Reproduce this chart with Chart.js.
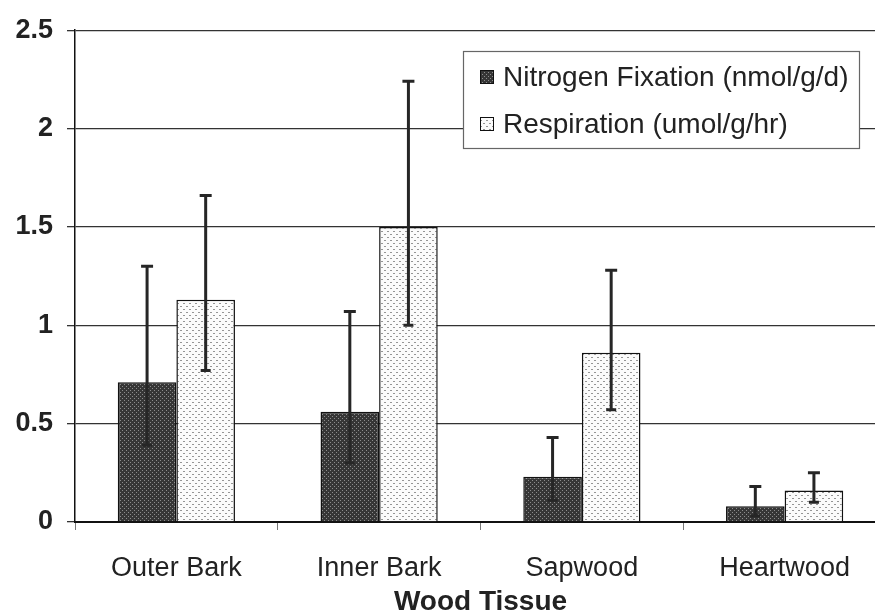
<!DOCTYPE html>
<html>
<head>
<meta charset="utf-8">
<script src="https://cdn.jsdelivr.net/npm/chart.js@4"></script>
<style>
  html, body { margin: 0; padding: 0; background: #fff; overflow: hidden; }
  #wrap { width: 888px; height: 616px; }
</style>
</head>
<body>
<div id="wrap"><canvas id="chart" width="888" height="616"></canvas></div>
<script>
(() => {
  const categories = ["Outer Bark", "Inner Bark", "Sapwood", "Heartwood"];
  const seriesNames = ["Nitrogen Fixation (nmol/g/d)", "Respiration (umol/g/hr)"];

  const nitrogen = [0.71, 0.56, 0.23, 0.08];
  const nitrogenLow = [0.39, 0.30, 0.11, 0.03];
  const nitrogenHigh = [1.30, 1.07, 0.43, 0.18];

  const respiration = [1.13, 1.50, 0.86, 0.16];
  const respirationLow = [0.77, 1.00, 0.57, 0.10];
  const respirationHigh = [1.66, 2.24, 1.28, 0.25];

  const yTicks = [0, 0.5, 1, 1.5, 2, 2.5];
  const yTickLabels = ["0", "0.5", "1", "1.5", "2", "2.5"];

  const FONT = "'Liberation Sans', Arial, sans-serif";
  const INK = "#222";

  // dotted fills like the old excel print
  function makePattern(bg, dot, size, dots) {
    const c = document.createElement("canvas");
    c.width = size; c.height = size;
    const g = c.getContext("2d");
    g.fillStyle = bg;
    g.fillRect(0, 0, size, size);
    g.fillStyle = dot;
    for (const [x, y, w, h] of dots) g.fillRect(x, y, w, h);
    return g.createPattern(c, "repeat");
  }
  const ctx = document.getElementById("chart").getContext("2d");
  const darkFill = makePattern("#363636", "#8c8c8c", 4, [[0, 0, 1, 1], [2, 2, 1, 1]]);
  const lightFill = makePattern("#fbfbfb", "#959595", 6, [[0, 0, 2, 1], [3, 3, 2, 1]]);

  const errorBars = {
    id: "errorBars",
    afterDatasetsDraw(chart) {
      const y = chart.scales.y;
      const g = chart.ctx;
      const ranges = [[nitrogenLow, nitrogenHigh], [respirationLow, respirationHigh]];
      g.save();
      g.strokeStyle = "#262626";
      g.lineWidth = 3;
      ranges.forEach(([lo, hi], di) => {
        chart.getDatasetMeta(di).data.forEach((bar, i) => {
          const x = bar.x;
          const yt = y.getPixelForValue(hi[i]);
          const yb = y.getPixelForValue(lo[i]);
          g.beginPath();
          g.moveTo(x, yt); g.lineTo(x, yb);
          g.moveTo(x - 6, yt); g.lineTo(x + 6, yt);
          g.moveTo(x - 5, yb); g.lineTo(x + 5, yb);
          g.stroke();
        });
      });
      g.restore();
    },
  };

  const boxLegend = {
    id: "boxLegend",
    afterDraw(chart) {
      const g = chart.ctx;
      const fills = [darkFill, lightFill];
      g.save();
      g.fillStyle = "#fff";
      g.fillRect(463, 51, 396, 97);
      g.strokeStyle = "#666";
      g.lineWidth = 1.2;
      g.strokeRect(463.5, 51.5, 396, 97);
      g.font = `28px ${FONT}`;
      g.textBaseline = "middle";
      seriesNames.forEach((name, i) => {
        const cy = 77 + i * 47;
        g.fillStyle = fills[i];
        g.fillRect(480, cy - 7, 14, 14);
        g.strokeStyle = "#111";
        g.lineWidth = 1;
        g.strokeRect(480.5, cy - 6.5, 13, 13);
        g.fillStyle = INK;
        g.fillText(name, 503, cy + 1);
      });
      g.restore();
    },
  };

  new Chart(ctx, {
    type: "bar",
    data: {
      labels: categories,
      datasets: [
        { label: seriesNames[0], data: nitrogen, backgroundColor: darkFill, borderColor: "#111", borderWidth: 1.5 },
        { label: seriesNames[1], data: respiration, backgroundColor: lightFill, borderColor: "#111", borderWidth: 1.5 },
      ],
    },
    options: {
      responsive: false,
      animation: false,
      events: [],
      layout: { padding: { top: 30, right: 2, bottom: 0, left: 0 } },
      datasets: { bar: { categoryPercentage: 0.578, barPercentage: 1 } },
      plugins: { legend: { display: false }, tooltip: { enabled: false } },
      scales: {
        x: {
          afterFit: (s) => { s.height = 94; },
          grid: { offset: true, drawOnChartArea: false, tickLength: 8, color: "#777", lineWidth: 1 },
          border: { display: true, color: "#111", width: 2 },
          ticks: { color: INK, font: { family: FONT, size: 27 }, padding: 22, maxRotation: 0 },
          title: {
            display: true, text: "Wood Tissue", color: INK,
            font: { family: FONT, size: 28, weight: "bold" }, padding: { top: 0, bottom: -3 },
          },
        },
        y: {
          min: 0, max: 2.5,
          afterFit: (s) => { s.width = 75; },
          afterBuildTicks: (s) => { s.ticks = yTicks.map((v) => ({ value: v })); },
          grid: { color: "#333", lineWidth: 1.3, tickLength: 8 },
          border: { display: true, color: "#111", width: 1.5 },
          ticks: {
            color: INK, font: { family: FONT, size: 27, weight: "bold" }, padding: 14,
            callback: (v, i) => yTickLabels[i],
          },
        },
      },
    },
    plugins: [errorBars, boxLegend],
  });
})();
</script>
</body>
</html>
